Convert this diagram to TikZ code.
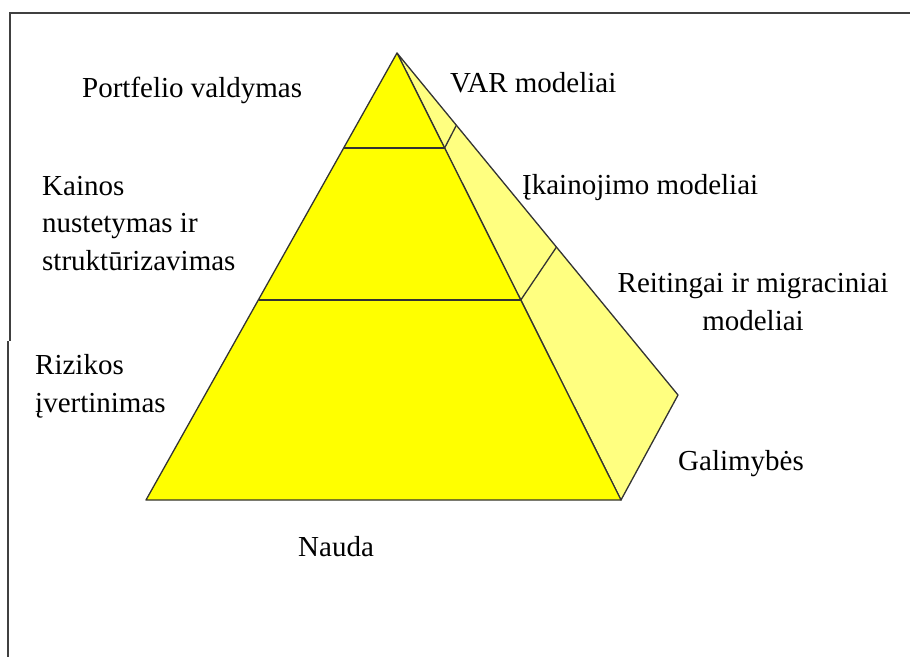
\documentclass[tikz,border=0pt]{standalone}
\usepackage{fontspec}
\setmainfont{Liberation Serif}
\definecolor{frontyel}{HTML}{FFFF00}
\definecolor{sideyel}{HTML}{FFFF80}
\begin{document}
\begin{tikzpicture}[x=1pt,y=-1pt,
  lbl/.style={inner sep=0pt, font=\fontsize{29}{37.5}\selectfont},
  edge/.style={draw=black!80, line width=1.3pt, line join=round},
  frame/.style={draw=black!75, line width=2.2pt}]
\useasboundingbox (0,0) rectangle (910,657);
% frame
\coordinate (f1) at (9,13);
\coordinate (f2) at (910,13);
\coordinate (f3) at (10,13);
\coordinate (f4) at (10,341);
\coordinate (f5) at (8,341);
\coordinate (f6) at (8,657);
\draw[frame] (f1) -- (f2);
\draw[frame] (f3) -- (f4);
\draw[frame] (f5) -- (f6);
% pyramid
\coordinate (A) at (397,53);
\coordinate (BL) at (146,500);
\coordinate (BR) at (621,500);
\coordinate (RB) at (678,395);
\coordinate (P1L) at (343.8,148);
\coordinate (P1R) at (444.6,148);
\coordinate (Q1) at (456.5,125);
\coordinate (P2L) at (258.7,300);
\coordinate (P2R) at (520.8,300);
\coordinate (Q2) at (556.5,247);
\filldraw[edge, fill=sideyel] (A) -- (RB) -- (BR) -- cycle;
\filldraw[edge, fill=frontyel] (A) -- (BR) -- (BL) -- cycle;
\draw[edge] (P1L) -- (P1R);
\draw[edge] (P2L) -- (P2R);
\draw[edge] (P1R) -- (Q1);
\draw[edge] (P2R) -- (Q2);
% labels (multi-line nodes: base anchor = last line baseline)
\node[lbl, anchor=base west] (portf) at (82,97) {Portfelio valdymas};
\node[lbl, anchor=base west] (var) at (450,92) {VAR modeliai};
\node[lbl, anchor=base west] (ikain) at (522,194) {Įkainojimo modeliai};
\node[lbl, anchor=base west, align=left] (kainos) at (42,270) {Kainos\\nustetymas ir\\struktūrizavimas};
\node[lbl, anchor=base, align=center] (reit) at (753,330) {Reitingai ir migraciniai\\modeliai};
\node[lbl, anchor=base west, align=left] (riz) at (35,412) {Rizikos\\įvertinimas};
\node[lbl, anchor=base west] (gal) at (678,470) {Galimybės};
\node[lbl, anchor=base west] (nauda) at (298,556) {Nauda};
\end{tikzpicture}
\end{document}
